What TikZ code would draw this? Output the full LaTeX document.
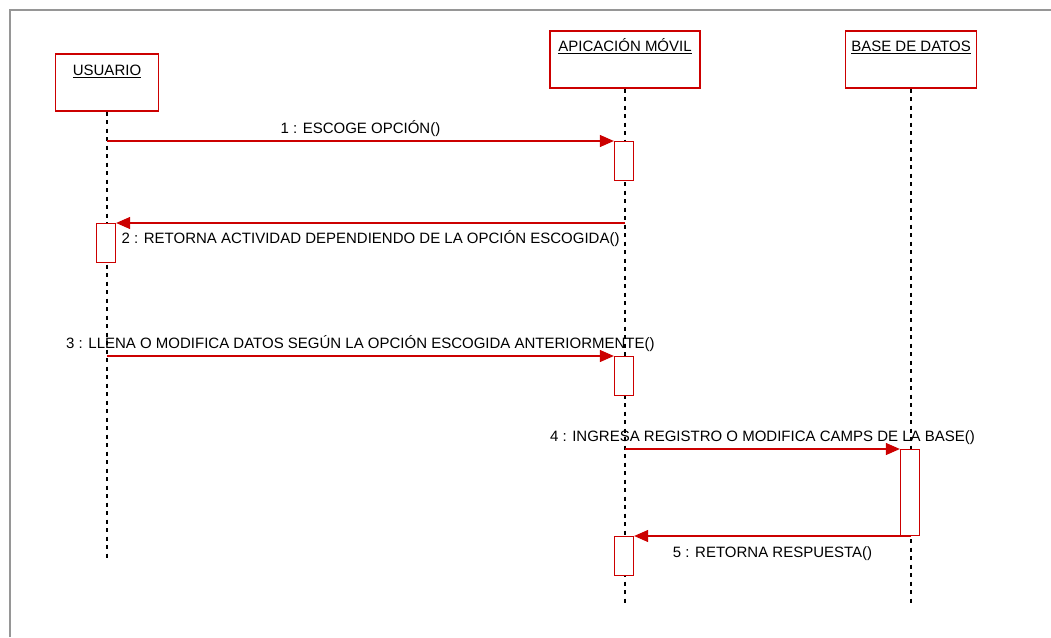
\documentclass[tikz,border=0pt]{standalone}
\usepackage{fontspec}
\setmainfont{Liberation Sans}
\usetikzlibrary{arrows.meta,positioning}
\definecolor{umlred}{RGB}{204,0,0}
\definecolor{framegray}{RGB}{150,150,150}

\begin{document}
\begin{tikzpicture}[
    x=1pt, y=-1pt,
    >={Triangle[length=14pt,width=12pt]},
    font=\fontsize{15}{18}\selectfont,
    obj/.style={draw=umlred,line width=1.3pt,minimum height=57pt,inner sep=0pt},
    objname/.style={anchor=base,inner sep=0pt},
    act/.style={draw=umlred,fill=white,line width=1.3pt,minimum width=19pt,inner sep=0pt,anchor=north},
    lifeline/.style={dash pattern=on 4pt off 4.5pt,line width=1.3pt},
    msg/.style={->,draw=umlred,line width=1.2pt},
    msglabel/.style={anchor=base,inner sep=0pt}
  ]
    \useasboundingbox (0,0) rectangle (1051,637);
    % frame
    \draw[framegray,line width=2pt] (10,637) -- (10,10) -- (1051,10);

    % objects
    \node[obj,minimum width=103pt] (usr) at (107,82.5) {};
    \node[objname] (usrname) at ([yshift=-22pt]usr.north) {\underline{USUARIO}};
    \node[obj,minimum width=150pt] (app) at (625,59.5) {};
    \node[objname] (appname) at ([yshift=-21.5pt]app.north) {\underline{APICACIÓN MÓVIL}};
    \node[obj,minimum width=131pt] (bd) at (911,59.5) {};
    \node[objname] (bdname) at ([yshift=-21.5pt]bd.north) {\underline{BASE DE DATOS}};

    % lifelines
    \coordinate (usrend) at (107,558);
    \coordinate (append) at (625,605);
    \coordinate (bdend) at (911,605);
    \draw[lifeline] (usr.south) -- (usrend);
    \draw[lifeline] (app.south) -- (append);
    \draw[lifeline] (bd.south) -- (bdend);

    % activations
    \node[act,minimum height=39pt] (a1) at (624,141) {};
    \node[act,minimum height=39pt] (a2) at (106,223) {};
    \node[act,minimum height=39pt] (a3) at (624,356) {};
    \node[act,minimum height=86pt] (a4) at (910,449) {};
    \node[act,minimum height=39pt] (a5) at (624,536) {};

    % messages
    \draw[msg] (usr.south |- a1.north) -- (a1.north west)
      node[msglabel,midway,yshift=7.5pt] {1 : ESCOGE OPCIÓN()};
    \draw[msg] (app.south |- a2.north) -- (a2.north east)
      node[msglabel,midway,yshift=-20.5pt] {2 : RETORNA ACTIVIDAD DEPENDIENDO DE LA OPCIÓN ESCOGIDA()};
    \draw[msg] (usr.south |- a3.north) -- (a3.north west)
      node[msglabel,midway,yshift=7.5pt] {3 : LLENA O MODIFICA DATOS SEGÚN LA OPCIÓN ESCOGIDA ANTERIORMENTE()};
    \draw[msg] (app.south |- a4.north) -- (a4.north west)
      node[msglabel,midway,yshift=7.5pt] {4 : INGRESA REGISTRO O MODIFICA CAMPS DE LA BASE()};
    \draw[msg] (bd.south |- a5.north) -- (a5.north east)
      node[msglabel,midway,yshift=-21pt] {5 : RETORNA RESPUESTA()};
  \end{tikzpicture}
\end{document}
